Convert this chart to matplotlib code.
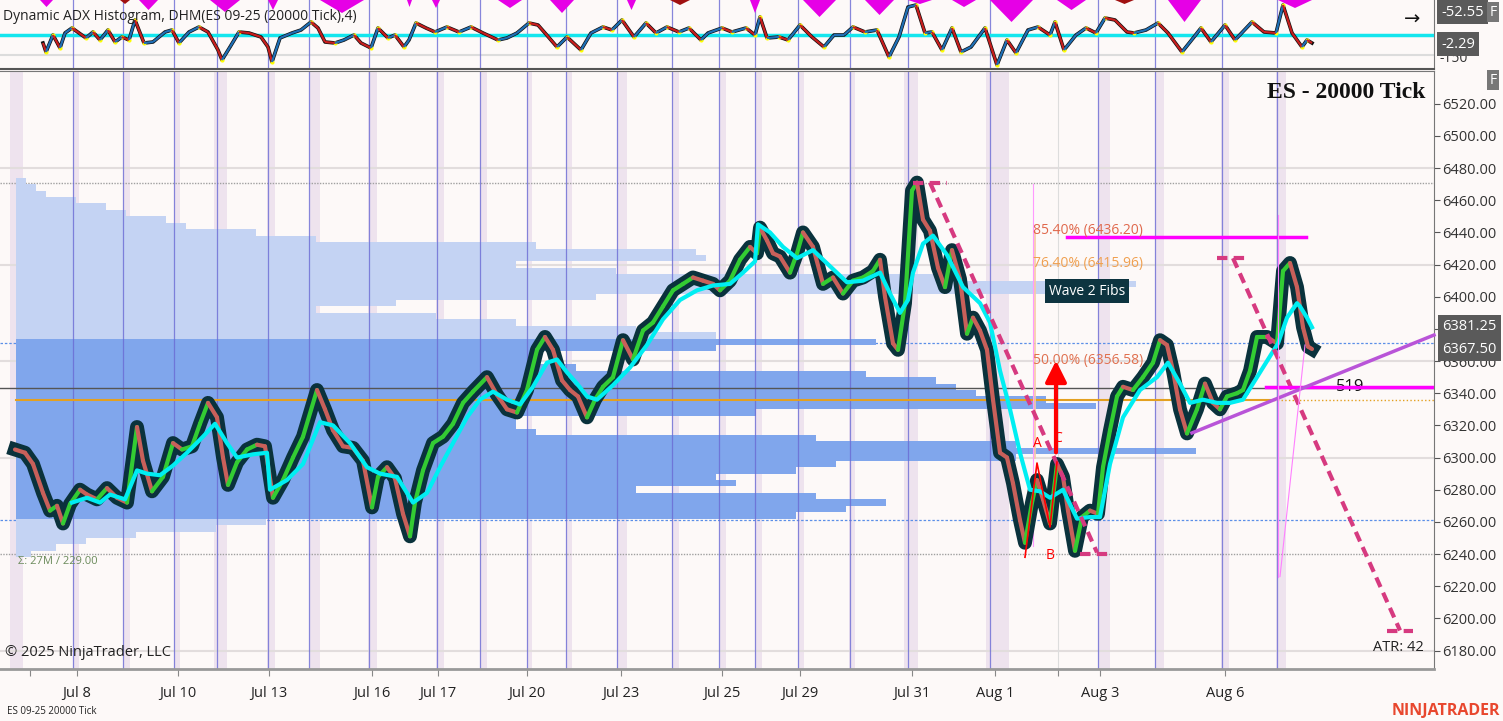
import matplotlib.pyplot as plt
import numpy as np
from matplotlib.collections import LineCollection

# chart columns (x) and closing prices of the 20000 tick bars
bar_x = [15, 25, 33, 43, 50, 57, 63, 70, 80, 87,
         97, 107, 117, 127, 137, 143, 152, 163, 173, 182,
         192, 200, 208, 217, 223, 228, 237, 247, 257, 265,
         273, 283, 293, 303, 317, 325, 333, 343, 353, 363,
         372, 378, 387, 395, 403, 410, 415, 423, 433, 443,
         453, 463, 473, 487, 497, 507, 517, 527, 537, 545,
         553, 562, 570, 578, 587, 595, 603, 613, 623, 633,
         643, 653, 663, 673, 683, 693, 703, 713, 720, 730,
         740, 750, 757, 760, 767, 773, 780, 790, 797, 803,
         813, 823, 833, 843, 853, 863, 873, 880, 885, 893,
         898, 905, 912, 917, 923, 930, 938, 945, 952, 960,
         967, 973, 980, 987, 993, 1000, 1007, 1013, 1020, 1025,
         1032, 1037, 1043, 1050, 1057, 1063, 1068, 1075, 1082, 1090,
         1098, 1103, 1110, 1117, 1123, 1133, 1143, 1153, 1160, 1167,
         1173, 1180, 1187, 1197, 1205, 1213, 1220, 1227, 1237, 1243,
         1250, 1257, 1267, 1277, 1283, 1290, 1297, 1303, 1308, 1312]
close = [6305, 6303, 6296, 6278, 6267, 6270, 6259, 6271, 6280, 6277,
         6274, 6281, 6275, 6272, 6319, 6298, 6279, 6288, 6309, 6305,
         6307, 6321, 6334, 6325, 6300, 6283, 6297, 6305, 6308, 6307,
         6275, 6286, 6300, 6313, 6342, 6330, 6317, 6307, 6306, 6298,
         6269, 6288, 6294, 6287, 6265, 6251, 6272, 6292, 6309, 6313,
         6321, 6334, 6341, 6350, 6339, 6330, 6328, 6342, 6367, 6375,
         6367, 6348, 6342, 6338, 6325, 6336, 6344, 6350, 6373, 6361,
         6379, 6384, 6394, 6404, 6408, 6412, 6410, 6408, 6404, 6410,
         6423, 6431, 6427, 6443, 6435, 6427, 6425, 6415, 6427, 6440,
         6431, 6408, 6412, 6402, 6410, 6412, 6416, 6423, 6400, 6371,
         6367, 6396, 6466, 6471, 6448, 6441, 6418, 6406, 6429, 6411,
         6377, 6387, 6379, 6367, 6336, 6303, 6300, 6284, 6261, 6247,
         6272, 6286, 6274, 6259, 6296, 6288, 6267, 6242, 6263, 6267,
         6265, 6294, 6317, 6338, 6344, 6342, 6350, 6359, 6373, 6370,
         6354, 6330, 6315, 6330, 6346, 6334, 6330, 6338, 6340, 6342,
         6354, 6375, 6375, 6371, 6416, 6421, 6406, 6381, 6369, 6367.5]

# cyan moving average
ma_x = [72, 87, 100, 110, 125, 137, 147, 160, 173, 187,
        203, 215, 227, 237, 253, 267, 270, 287, 303, 320,
        333, 350, 367, 380, 397, 413, 427, 440, 453, 467,
        480, 493, 507, 520, 533, 547, 557, 567, 577, 587,
        597, 613, 630, 647, 663, 680, 697, 713, 730, 743,
        755, 758, 770, 783, 797, 813, 830, 847, 863, 880,
        890, 900, 908, 913, 923, 933, 947, 963, 980, 990,
        1000, 1010, 1020, 1030, 1040, 1050, 1063, 1077, 1090, 1100,
        1110, 1123, 1140, 1157, 1168, 1180, 1190, 1203, 1217, 1230,
        1243, 1257, 1270, 1278, 1287, 1297, 1300, 1307, 1312]
ma = [6272, 6275, 6272, 6277, 6274, 6292, 6290, 6289, 6295, 6303,
      6313, 6321, 6309, 6300, 6302, 6303, 6280, 6286, 6296, 6322,
      6320, 6309, 6294, 6290, 6288, 6272, 6278, 6294, 6309, 6325,
      6336, 6341, 6336, 6333, 6344, 6359, 6361, 6353, 6346, 6338,
      6336, 6345, 6356, 6370, 6386, 6398, 6404, 6407, 6408, 6415,
      6422, 6445, 6440, 6431, 6424, 6429, 6419, 6409, 6410, 6415,
      6402, 6390, 6398, 6415, 6433, 6438, 6426, 6406, 6396, 6384,
      6354, 6330, 6303, 6280, 6279, 6275, 6280, 6262, 6263, 6263,
      6296, 6325, 6342, 6350, 6359, 6346, 6334, 6336, 6334, 6334,
      6336, 6350, 6363, 6371, 6387, 6396, 6394, 6387, 6381]

# Dynamic ADX oscillator (top panel)
osc_x = [43, 46, 53, 60, 65, 72, 79, 86, 93, 100,
         108, 115, 122, 129, 135, 144, 153, 165, 172, 179,
         189, 199, 208, 218, 222, 230, 239, 249, 261, 268,
         272, 280, 292, 301, 311, 318, 325, 335, 344, 354,
         361, 371, 378, 388, 395, 404, 409, 416, 426, 435,
         447, 459, 471, 483, 498, 507, 517, 529, 538, 545,
         557, 567, 581, 591, 603, 612, 622, 634, 646, 656,
         667, 679, 689, 701, 708, 722, 732, 746, 755, 760,
         767, 779, 788, 800, 812, 824, 834, 844, 853, 865,
         877, 889, 899, 908, 916, 925, 932, 942, 952, 961,
         971, 985, 997, 1007, 1016, 1028, 1038, 1050, 1055, 1064,
         1076, 1086, 1096, 1105, 1115, 1127, 1134, 1146, 1158, 1168,
         1182, 1194, 1201, 1211, 1225, 1235, 1252, 1264, 1276, 1283,
         1292, 1302, 1307, 1312]
osc = [-56, -119, 0, -91, 14, 49, 14, -21, 21, -35,
       35, -49, -14, -35, 105, -56, -49, 21, 35, -56,
       21, 56, 21, -105, -175, -84, 21, 14, -14, -84,
       -189, -21, 14, 35, 91, 49, -49, -56, -35, 0,
       -56, -91, 49, -21, 0, -84, -35, 84, 49, 21,
       56, 21, 56, 14, -35, -21, 14, 84, 70, 14,
       -84, -14, -105, 14, 56, 35, 105, -14, 84, 14,
       56, 21, 49, -35, 14, 49, 21, 49, 0, 126,
       -21, -14, -35, 70, -14, -84, 0, 0, 56, 21,
       35, -154, -14, 196, 210, 14, 21, -105, 49, -119,
       -84, 49, -210, -35, -126, 35, 56, 0, 91, -105,
       0, 49, 14, 119, 105, 21, 14, 35, 84, 14,
       -119, -14, 49, -49, 70, -35, 91, 21, 14, 210,
       14, -84, -35, -56]

# histogram icicles hanging from the top
hist_start = [40, 120, 139, 210, 268, 320, 407, 432, 498, 550, 627, 670,
              750, 803, 865, 908, 952, 990, 1057, 1115, 1168, 1278]
hist_end = [53, 130, 158, 240, 278, 364, 412, 440, 522, 574, 636, 690,
            760, 836, 894, 932, 976, 1033, 1086, 1134, 1201, 1312]
hist_low = [196, 217, 175, 161, 175, 154, 196, 189, 189, 154, 175, 210,
            154, 126, 140, 217, 196, 91, 175, 217, 91, 189]
hist_kind = ['m', 'r', 'm', 'm', 'm', 'm', 'm', 'm', 'm', 'm', 'm', 'r',
             'm', 'm', 'm', 'm', 'm', 'm', 'm', 'r', 'm', 'm']

# volume profile
profile_price = np.arange(6240, 6476, 4)
profile_width = [15, 40, 70, 120, 200, 250, 780, 830, 870, 800,
                 620, 720, 700, 780, 820, 1000, 1180, 1000, 800, 520,
                 500, 500, 740, 1080, 1030, 960, 940, 920, 850, 560,
                 520, 520, 700, 860, 700, 620, 500, 420, 300, 380,
                 580, 1050, 1120, 950, 600, 500, 690, 680, 520, 300,
                 240, 170, 150, 110, 90, 60, 30, 20, 10]

# session breaks
session_x = [73, 123, 174, 217, 268, 309, 369, 437, 480, 527, 566, 617,
             672, 719, 755, 798, 850, 908, 990, 1098, 1155, 1222, 1277]
band_start = [10, 73, 123, 174, 214, 267, 310, 368, 436, 480, 527, 566,
              617, 672, 720, 755, 798, 849, 904, 986, 1098, 1155, 1221, 1276]
band_end = [23, 79, 130, 180, 227, 275, 320, 377, 444, 487, 532, 572,
            627, 679, 726, 762, 804, 855, 918, 1009, 1110, 1164, 1229, 1286]

tick_pos = [30, 77, 178, 269, 372, 438, 527, 621, 722, 800, 912, 995, 1058, 1100, 1225]
tick_labels = ['', 'Jul 8', 'Jul 10', 'Jul 13', 'Jul 16', 'Jul 17', 'Jul 20', 'Jul 23',
               'Jul 25', 'Jul 29', 'Jul 31', 'Aug 1', '', 'Aug 3', 'Aug 6']
price_ticks = list(range(6180, 6521, 20))

plt.rcParams['font.family'] = ['Open Sans', 'DejaVu Sans']

W, H = 1503, 721
BG = '#fdf9f8'
fig = plt.figure(figsize=(W / 100, H / 100), dpi=100, facecolor=BG)
ax = fig.add_axes([0, 52 / H, 1434 / W, 598 / H])
axt = fig.add_axes([0, 652 / H, 1434 / W, 69 / H])

# ---------------- main price panel ----------------
ax.set_facecolor(BG)
ax.set_xlim(0, 1434)
ax.set_ylim(6168.5, 6540.4)

for s, e in zip(band_start, band_end):
    ax.axvspan(s, e, color='#eee3ee', lw=0, zorder=0)
for p in [6180, 6300, 6360, 6420, 6480]:
    ax.axhline(p, color='#e2dddd', lw=1.5, zorder=0.2)
for p in [6240, 6470.5]:
    ax.axhline(p, color='#a0a0a0', lw=1, ls=(0, (1, 1)), zorder=0.3)
for p in [6371, 6261]:
    ax.axhline(p, color='#5b8fe8', lw=0.9, ls=(0, (2, 1.5)), zorder=0.4)

prof_colors = ['#80a6ec' if 6262 <= p <= 6372 else '#c4d3f3' for p in profile_price]
ax.barh(profile_price, profile_width, height=4, left=16, color=prof_colors, lw=0, zorder=1)

for x in session_x:
    ax.axvline(x, color='#6a6ad4', lw=0.9, alpha=0.8, zorder=1.5)
    axt.axvline(x, color='#6a6ad4', lw=0.9, alpha=0.8, zorder=1.5)
ax.axvline(1058, color='#dddddd', lw=0.8, zorder=0.5)

ax.axhline(6343.5, color='#555555', lw=1, zorder=1.6)
ax.plot([16, 1270], [6335.5, 6335.5], color='#e3a020', lw=1.5, zorder=1.7)
ax.plot([1270, 1434], [6335.5, 6335.5], color='#e3a020', lw=1, ls=':', zorder=1.7)

# bars (dark body) + colored swing line + cyan average
ax.plot(bar_x, close, color='#0a323c', lw=10, solid_joinstyle='round', zorder=3)
pts = np.column_stack([bar_x, close])
segs = np.stack([pts[:-1], pts[1:]], axis=1)
cols = np.where(np.diff(close) >= 0, '#33cc33', '#c8605a')
ax.add_collection(LineCollection(segs, colors=cols, lw=3, capstyle='round', zorder=4))
ax.plot(ma_x, ma, color='#00eef2', lw=3, zorder=5)

# drawings
dash_c = '#d63a80'
dash = (0, (2.5, 1.5))
ax.plot([930, 1097], [6471, 6241], color=dash_c, lw=3, ls=dash, zorder=6)
ax.plot([913, 947], [6471, 6471], color=dash_c, lw=3, ls=dash, zorder=6)
ax.plot([1080, 1113], [6240, 6240], color=dash_c, lw=3, ls=dash, zorder=6)
ax.plot([1233, 1400], [6424, 6192.5], color=dash_c, lw=3, ls=dash, zorder=6)
ax.plot([1217, 1250], [6424, 6424], color=dash_c, lw=3, ls=dash, zorder=6)
ax.plot([1387, 1413], [6192, 6192], color=dash_c, lw=3, ls=dash, zorder=6)

ax.plot([1067, 1306], [6437, 6437], color='#ff00ff', lw=2.5, zorder=6)
ax.text(1350, 6343.9, '519', fontsize=12, color='#111111', ha='center', va='center', zorder=5.5)
ax.plot([1266, 1433], [6343.8, 6343.8], color='#ff00ff', lw=2.5, zorder=6)
ax.plot([1192, 1434], [6315.3, 6376.2], color='#b954d8', lw=2.5, zorder=6, clip_on=False)

ax.plot([1033, 1033], [6470, 6245], color='#ff99ff', lw=0.8, zorder=2)
ax.plot([1035, 1035], [6440, 6300], color='#f8c8a8', lw=1.2, zorder=2)
ax.plot([1278, 1278], [6451, 6226], color='#ff80ff', lw=0.8, zorder=6)
ax.plot([1280, 1305], [6226, 6370], color='#ff80ff', lw=0.8, zorder=6)

ax.text(1033, 6440.9, '85.40% (6436.20)', fontsize=10, color='#e0684c', va='center', zorder=7)
ax.text(1033, 6420.4, '76.40% (6415.96)', fontsize=10, color='#f0a050', va='center', zorder=7)
ax.text(1033, 6360.6, '50.00% (6356.58)', fontsize=10, color='#e0704f', va='center', zorder=7)
ax.text(1087, 6403.5, 'Wave 2 Fibs', fontsize=10, color='white', ha='center', va='center', zorder=7,
        bbox=dict(boxstyle='square,pad=0.3', fc='#0d3440', ec='none'))

ax.plot([1025, 1037, 1050, 1057], [6238, 6296.6, 6256.8, 6297.2], color='red', lw=1.2, zorder=7)
ax.annotate('', xy=(1056, 6362), xytext=(1056, 6301.5), zorder=7,
            arrowprops=dict(arrowstyle='-|>', color='red', lw=3, mutation_scale=32))
ax.text(1037, 6309, 'A', fontsize=10, color='red', ha='center', va='center', zorder=7)
ax.text(1050, 6239, 'B', fontsize=10, color='red', ha='center', va='center', zorder=7)
ax.text(1058, 6312, 'C', fontsize=10, color='red', ha='center', va='center', zorder=7)

ax.text(1425, 6527, 'ES - 20000 Tick', fontsize=17, fontweight='bold', family='Liberation Serif',
        ha='right', va='center', color='#111111', zorder=7)
ax.text(18, 6235.5, 'Σ: 27M / 229.00', fontsize=8, color='#6a8a5a', va='center', zorder=7)
ax.text(5, 6179, '© 2025 NinjaTrader, LLC', fontsize=10.5, color='#222222', va='center', zorder=7)
ax.text(1424, 6182, 'ATR: 42', fontsize=10.5, color='#222222', ha='right', va='center', zorder=7)

# price axis (6380 sits under the last price box)
ax.yaxis.tick_right()
ax.set_yticks(price_ticks)
ax.set_yticklabels(['' if p == 6380 else '{:.2f}'.format(p) for p in price_ticks])
ax.tick_params(axis='y', length=4, color='#555555', labelsize=10.5, labelcolor='#333333', pad=2)
ax.set_xticks(tick_pos)
ax.set_xticklabels(tick_labels)
ax.tick_params(axis='x', length=5, color='#888888', labelsize=10.5, labelcolor='#222222', pad=7)
ax.spines['left'].set_visible(False)
ax.spines['top'].set_color('#777777')
ax.spines['right'].set_color('#777777')
ax.spines['bottom'].set_color('#999999')
ax.spines['bottom'].set_linewidth(2)

for p, lab in [(6381.25, '6381.25'), (6367.5, '6367.50')]:
    ax.text(1.006, p, lab, transform=ax.get_yaxis_transform(), ha='left', va='center',
            color='white', fontsize=10.5, clip_on=False, zorder=10,
            bbox=dict(boxstyle='square,pad=0.3', fc='#5a5a5a', ec='none'))

# ---------------- top ADX panel ----------------
axt.set_facecolor(BG)
axt.set_xlim(0, 1434)
axt.set_ylim(-238, 245)
axt.axhline(-140, color='#dcdcdc', lw=1.5, zorder=1)
for s, e, low, k in zip(hist_start, hist_end, hist_low, hist_kind):
    c = '#e600e6' if k == 'm' else '#a01010'
    m = (s + e) / 2
    axt.fill([s, s + (m - s) * 0.5, m, e - (e - m) * 0.5, e],
             [245, (245 + low) / 2, low, (245 + low) / 2, 245], color=c, lw=0, zorder=2)
axt.axhline(0, color='#14e6ee', lw=2.5, zorder=3)
axt.plot(osc_x, osc, color='#111111', lw=2.6, zorder=4)
op = np.column_stack([osc_x, osc])
osegs = np.stack([op[:-1], op[1:]], axis=1)
ocols = np.where(np.diff(osc) >= 0, '#1f6fb5', '#c81e1e')
axt.add_collection(LineCollection(osegs, colors=ocols, lw=1.6, zorder=5))
o = np.array(osc)
ext = [i for i in range(1, len(o) - 1) if (o[i] - o[i - 1]) * (o[i + 1] - o[i]) < 0]
axt.scatter(np.array(osc_x)[ext], o[ext], s=9, color='#ffff00', zorder=4.5, lw=0)
axt.set_xticks([])
axt.set_yticks([])
for side in ['left', 'top']:
    axt.spines[side].set_visible(False)
axt.spines['bottom'].set_color('#555555')
axt.spines['bottom'].set_linewidth(1.5)
axt.spines['right'].set_color('#777777')
axt.text(3, 126, 'Dynamic ADX Histogram, DHM(ES 09-25 (20000 Tick),4)', fontsize=10,
         color='#222222', va='center', zorder=6)

# right-side labels of the top panel
fig.text(1440 / W, 1 - 58 / H, '-150', fontsize=10, color='#333333', va='center')
fig.text(1441 / W, 1 - 12 / H, '-52.55', fontsize=10.5, color='white', va='center',
         bbox=dict(boxstyle='square,pad=0.3', fc='#5a5a5a', ec='none'))
fig.text(1441 / W, 1 - 44 / H, '-2.29', fontsize=10.5, color='white', va='center',
         bbox=dict(boxstyle='square,pad=0.3', fc='#5a5a5a', ec='none'))
fig.text(1412 / W, 1 - 20 / H, '→', fontsize=14, color='#111111', ha='center', va='center')
for yy in [12, 80]:
    fig.text(1493 / W, 1 - yy / H, 'F', fontsize=10, color='white', ha='center', va='center',
             bbox=dict(boxstyle='square,pad=0.2', fc='#777777', ec='none'))

fig.text(7 / W, 1 - 711 / H, 'ES 09-25 20000 Tick', fontsize=7, color='#222222', va='center')
fig.text(1500 / W, 1 - 711 / H, 'NINJATRADER', fontsize=11.5, fontweight='bold', color='#e8472e',
         ha='right', va='center')

fig.savefig('out.png', dpi=100, facecolor=BG)
